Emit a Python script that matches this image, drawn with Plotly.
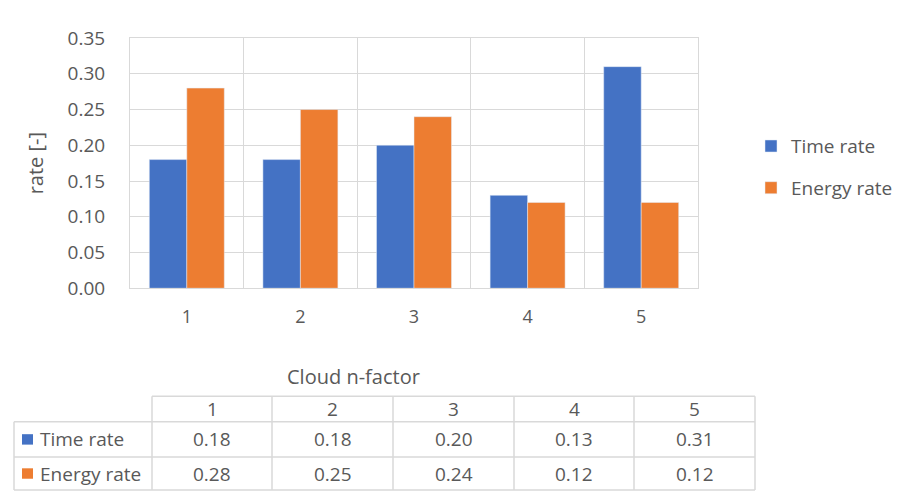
import plotly.graph_objects as go

categories = ["1", "2", "3", "4", "5"]
time_rate = [0.18, 0.18, 0.20, 0.13, 0.31]
energy_rate = [0.28, 0.25, 0.24, 0.12, 0.12]
series_names = ["Time rate", "Energy rate"]
y_ticks = [0.00, 0.05, 0.10, 0.15, 0.20, 0.25, 0.30, 0.35]

BLUE = "#4472C4"
ORANGE = "#ED7D31"
GRID = "#D9D9D9"
TXT = "#595959"
FONT = "Open Sans"
W, H = 904, 497

def px(x):
    return x / W

def py(y):
    return 1 - y / H

xpos = list(range(1, len(categories) + 1))

fig = go.Figure()
fig.add_trace(go.Bar(x=xpos, y=time_rate, name=series_names[0], marker_color=BLUE,
                     legendgroup="a"))
fig.add_trace(go.Bar(x=xpos, y=energy_rate, name=series_names[1], marker_color=ORANGE,
                     legendgroup="b"))

fig.update_layout(
    width=W, height=H,
    margin=dict(l=0, r=0, t=0, b=0),
    paper_bgcolor="white", plot_bgcolor="white",
    font=dict(family=FONT, color=TXT, size=18),
    barmode="group", bargap=0.34, bargroupgap=0.0,
    showlegend=True,
    legend=dict(x=px(743), y=py(112), xanchor="left", yanchor="top",
                font=dict(size=19, color=TXT), tracegroupgap=14,
                bgcolor="rgba(0,0,0,0)"),
    xaxis=dict(domain=[px(122), px(690)], range=[0.5, 5.5],
               tickvals=xpos, ticktext=categories, showgrid=False,
               ticks="", tickfont=dict(size=18, color=TXT), ticklabelstandoff=12,
               showline=True, linecolor=GRID, mirror=True,
               minor=dict(tick0=0.5, dtick=1, showgrid=True, gridcolor=GRID, ticks=""),
               zeroline=False),
    yaxis=dict(domain=[py(282), py(18)], range=[0, 0.35],
               tickvals=y_ticks, ticktext=[f"{v:.2f}" for v in y_ticks],
               tickfont=dict(size=19, color=TXT), gridcolor=GRID, showgrid=True,
               showline=True, linecolor=GRID, mirror=True, zeroline=False,
               ticks="", ticklabelstandoff=20,
               title=dict(text="rate [-]", font=dict(size=20, color=TXT), standoff=18)),
)

# x-axis title
fig.add_annotation(x=px(345), y=py(375), xref="paper", yref="paper",
                   text="Cloud n-factor", showarrow=False,
                   font=dict(size=20, color=TXT), xanchor="center", yanchor="middle")

# data table
col_edges = [6, 144, 264, 385, 506, 626, 747]
row_edges = [396, 423, 460, 495]
line = dict(color=GRID, width=1.5)
fig.add_shape(type="line", xref="paper", yref="paper",
              x0=px(col_edges[1]), x1=px(col_edges[-1]), y0=py(row_edges[0]), y1=py(row_edges[0]), line=line)
for r in row_edges[1:]:
    fig.add_shape(type="line", xref="paper", yref="paper",
                  x0=px(col_edges[0]), x1=px(col_edges[-1]), y0=py(r), y1=py(r), line=line)
fig.add_shape(type="line", xref="paper", yref="paper",
              x0=px(col_edges[0]), x1=px(col_edges[0]), y0=py(row_edges[1]), y1=py(row_edges[-1]), line=line)
for c in col_edges[1:]:
    fig.add_shape(type="line", xref="paper", yref="paper",
                  x0=px(c), x1=px(c), y0=py(row_edges[0]), y1=py(row_edges[-1]), line=line)

def cell_text(col, row, text):
    xc = (col_edges[col] + col_edges[col + 1]) / 2
    yc = (row_edges[row] + row_edges[row + 1]) / 2
    fig.add_annotation(x=px(xc), y=py(yc), xref="paper", yref="paper", text=text,
                       showarrow=False, font=dict(size=19, color=TXT),
                       xanchor="center", yanchor="middle")

for i, c in enumerate(categories):
    cell_text(i + 1, 0, c)
for i, v in enumerate(time_rate):
    cell_text(i + 1, 1, f"{v:.2f}")
for i, v in enumerate(energy_rate):
    cell_text(i + 1, 2, f"{v:.2f}")

for r, (name, color) in enumerate(zip(series_names, [BLUE, ORANGE])):
    yc = (row_edges[r + 1] + row_edges[r + 2]) / 2
    fig.add_shape(type="rect", xref="paper", yref="paper",
                  x0=px(14), x1=px(25), y0=py(yc - 5.5), y1=py(yc + 5.5),
                  fillcolor=color, line=dict(width=0))
    fig.add_annotation(x=px(30), y=py(yc), xref="paper", yref="paper", text=name,
                       showarrow=False, font=dict(size=19, color=TXT),
                       xanchor="left", yanchor="middle")

fig.write_html("out.html")
